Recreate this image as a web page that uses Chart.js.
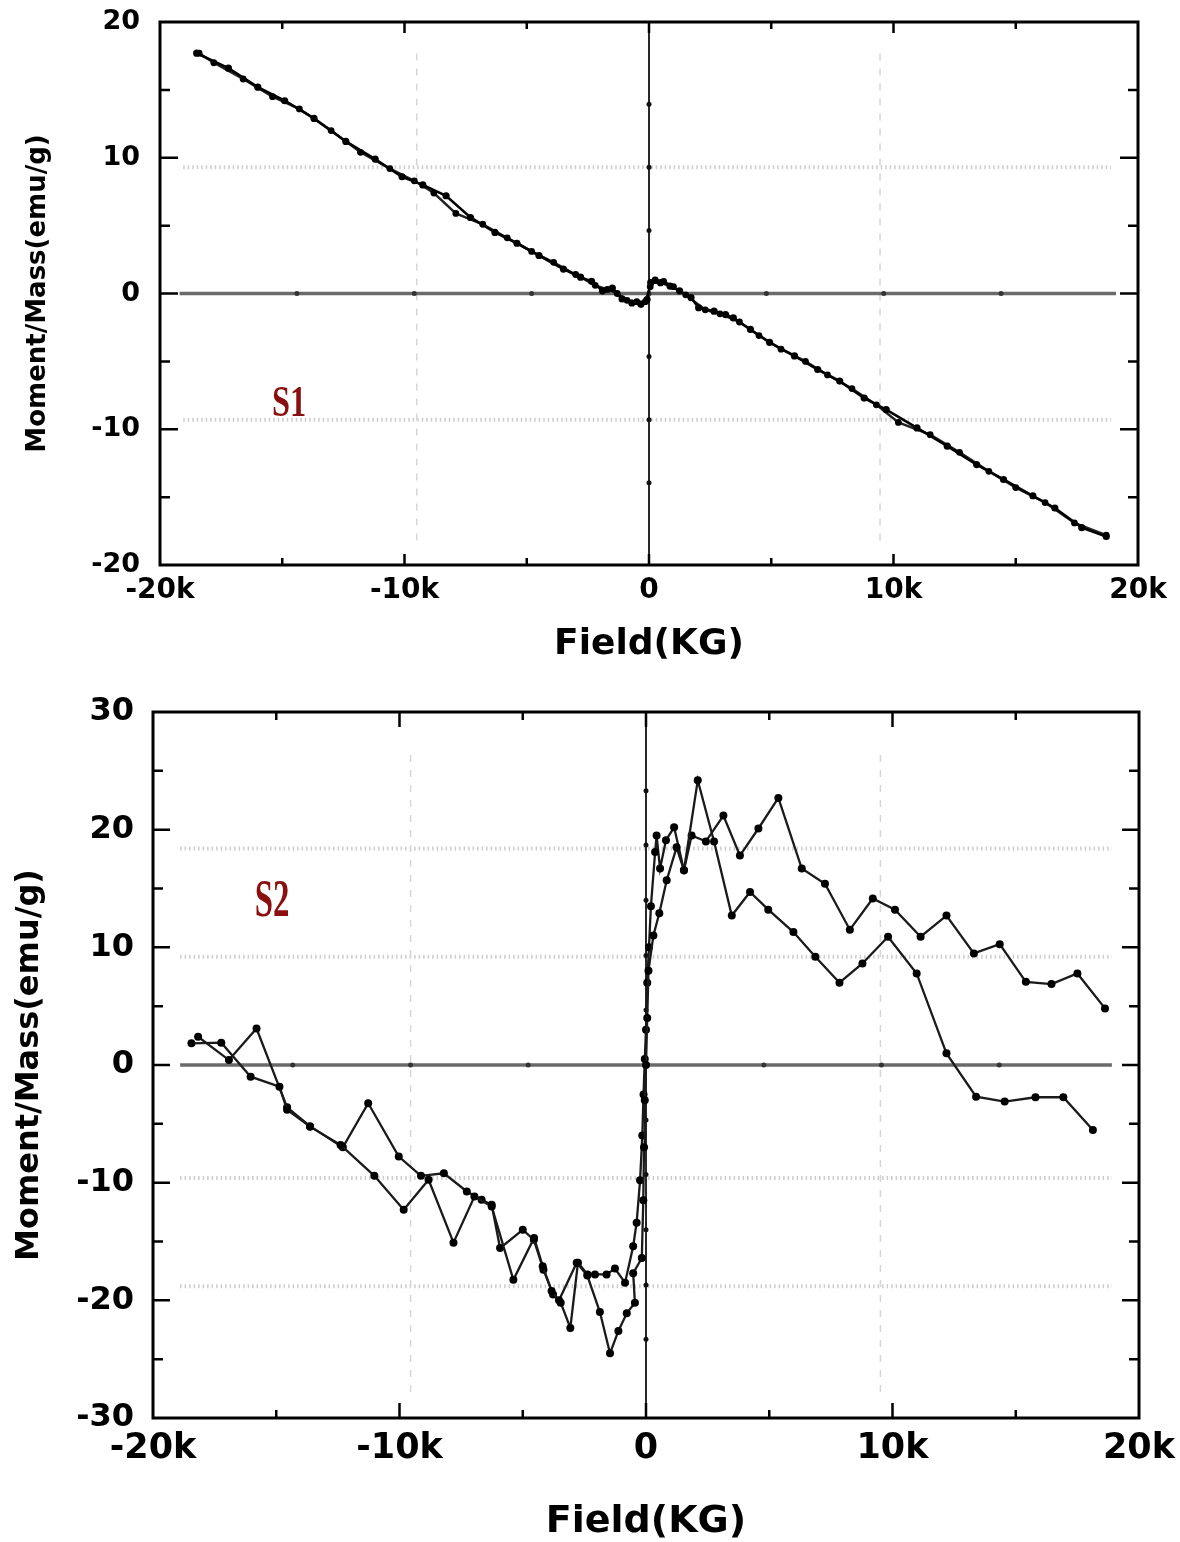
<!DOCTYPE html>
<html>
<head>
<meta charset="utf-8">
<title>M-H loops S1 / S2</title>
<script src="https://cdn.jsdelivr.net/npm/chart.js@4.4.1/dist/chart.umd.min.js"></script>
<style>
    html, body { margin: 0; padding: 0; background: #fff; }
    canvas { display: block; }
</style>
</head>
<body>
<canvas id="s1-chart" width="1180" height="680"></canvas>
<canvas id="s2-chart" width="1180" height="862"></canvas>
<script>
// Field in kG (axis shows "k"), moment in emu/g

// ---- S1: two sweep branches, almost on top of each other ----
const s1UpField = [-18.5, -17.2, -16.0, -14.9, -13.7, -12.4, -11.2, -10.1, -9.25, -8.3, -7.3, -6.3, -5.4, -4.5, -3.5, -2.8, -2.35, -1.9, -1.5, -1.1, -0.7, -0.33, -0.08, 0.07, 0.47, 0.86, 1.25, 1.72, 2.03, 2.66, 3.13, 3.45, 4.15, 4.93, 5.95, 6.9, 7.8, 8.8, 9.7, 10.96, 12.2, 13.4, 14.5, 15.7, 16.6, 17.7, 18.7];
const s1UpMoment = [17.7, 16.6, 15.2, 14.2, 12.9, 11.2, 9.9, 8.6, 8.0, 7.2, 5.6, 4.5, 3.7, 2.8, 1.8, 1.2, 0.9, 0.2, 0.4, -0.4, -0.7, -0.8, -0.45, 0.8, 0.8, 0.55, 0.2, -0.3, -1.05, -1.3, -1.55, -1.8, -2.65, -3.6, -4.6, -5.6, -6.45, -7.7, -8.55, -9.9, -11.25, -12.6, -13.7, -14.9, -15.8, -17.25, -17.9];

const s1DownField = [18.7, 17.4, 16.2, 15.0, 13.9, 12.7, 11.5, 10.2, 9.3, 8.3, 7.3, 6.4, 5.4, 4.5, 3.7, 2.9, 2.3, 1.5, 1.0, 0.6, 0.25, 0.05, -0.15, -0.5, -0.9, -1.3, -1.7, -2.2, -3.0, -3.9, -4.8, -5.8, -6.8, -7.9, -8.8, -9.6, -10.6, -11.8, -13.0, -14.3, -15.4, -16.6, -17.8, -18.4];
const s1DownMoment = [-17.8, -16.9, -15.4, -14.3, -13.1, -11.7, -10.4, -9.5, -8.2, -7.0, -6.0, -5.0, -4.1, -3.1, -2.1, -1.5, -1.2, -0.1, 0.5, 0.9, 1.0, 0.5, -0.6, -0.6, -0.5, 0.0, 0.3, 0.6, 1.4, 2.3, 3.1, 4.1, 5.1, 5.9, 7.4, 8.3, 9.2, 10.4, 12.0, 13.6, 14.5, 15.8, 17.0, 17.7];

// ---- S2: noisy loop ----
const s2LowerField = [-18.44, -17.23, -16.04, -14.87, -14.56, -13.63, -12.39, -11.02, -9.83, -8.82, -7.81, -6.96, -6.26, -5.38, -4.54, -4.19, -3.83, -3.53, -2.81, -2.38, -1.87, -1.46, -1.12, -0.78, -0.45, -0.52, -0.17, -0.11, -0.08, -0.05, 0.0, 0.05, 0.1, 0.3, 0.54, 0.84, 1.24, 1.54, 2.1, 2.76, 3.48, 4.22, 4.96, 5.98, 6.87, 7.85, 8.78, 9.82, 10.98, 12.19, 13.39, 14.55, 15.8, 16.93, 18.13];
const s2LowerMoment = [1.84, 1.9, -0.99, -1.84, -3.8, -5.24, -6.8, -9.42, -12.3, -9.76, -15.1, -11.18, -12.03, -18.25, -14.7, -17.1, -19.2, -20.0, -16.8, -17.9, -21.0, -24.5, -22.6, -21.1, -20.2, -17.7, -16.4, -11.5, -7.0, -3.0, 0.0, 4.0, 8.0, 11.0, 12.9, 15.7, 18.5, 16.55, 24.2, 19.0, 12.7, 14.7, 13.2, 11.3, 9.2, 6.99, 8.63, 10.9, 7.78, 0.99, -2.69, -3.11, -2.74, -2.74, -5.52];

const s2UpperField = [-18.17, -16.92, -15.8, -14.56, -13.63, -12.3, -11.27, -10.03, -9.13, -8.2, -7.27, -6.67, -6.26, -5.92, -5.0, -4.55, -4.16, -3.77, -3.46, -3.07, -2.76, -2.37, -2.07, -1.6, -1.26, -0.85, -0.52, -0.38, -0.24, -0.15, -0.1, -0.05, 0.0, 0.05, 0.12, 0.2, 0.37, 0.43, 0.57, 0.81, 1.14, 1.54, 1.85, 2.43, 3.14, 3.81, 4.56, 5.37, 6.32, 7.26, 8.27, 9.2, 10.1, 11.14, 12.19, 13.3, 14.35, 15.41, 16.45, 17.5, 18.62];
const s2UpperMoment = [2.4, 0.42, 3.1, -3.6, -5.2, -7.0, -3.25, -7.78, -9.42, -9.2, -10.75, -11.46, -11.88, -15.56, -14.0, -14.86, -17.4, -19.5, -20.2, -22.35, -16.8, -17.8, -17.8, -17.8, -17.3, -18.5, -15.4, -13.4, -9.8, -6.0, -2.5, 0.5, 3.0, 7.0, 10.0, 13.5, 18.1, 19.5, 16.7, 19.1, 20.2, 16.55, 19.5, 19.0, 21.2, 17.8, 20.1, 22.7, 16.7, 15.4, 11.5, 14.15, 13.2, 10.9, 12.7, 9.48, 10.27, 7.07, 6.88, 7.78, 4.81];

// zero lines of the original plot (with their small markers)
const s1ZeroLineField = [-19.2, -14.4, -9.6, -4.8, 0, 4.8, 9.6, 14.4, 19.1];
const s1ZeroLineMoment = [-20, -13.95, -9.3, -4.65, 0, 4.65, 9.3, 13.95, 20];
const s2ZeroLineField = [-18.9, -14.33, -9.55, -4.78, 0, 4.78, 9.55, 14.33, 18.9];
const s2ZeroLineMoment = [-30, -23.3, -18.7, -14, -9.3, -4.67, 0, 4.67, 9.3, 14, 18.7, 23.3, 30];

// faint grid of the original
const s1GridMoment = [9.3, -9.3];
const s1GridField = [-9.5, 9.45];
const s2GridMoment = [18.4, 9.2, -9.6, -18.8];
const s2GridField = [-9.55, 9.51];

// axis tick marks (drawn inward)
const fieldMajor = [-10, 0, 10];
const fieldMinor = [-15, -5, 5, 15];
const s1MomentMajor = [-10, 0, 10];
const s1MomentMinor = [-15, -5, 5, 15];
const s2MomentMajor = [-20, -10, 0, 10, 20];
const s2MomentMinor = [-25, -15, -5, 5, 15, 25];

const toPoints = (xs, ys) => xs.map((x, i) => ({ x, y: ys[i] }));
const endsHidden = (r) => (ctx) => (ctx.dataIndex === 0 || ctx.dataIndex === ctx.dataset.data.length - 1) ? 0 : r;

// box frame + inward ticks
const frameTicks = {
    id: 'frameTicks',
    afterDatasetsDraw(chart, args, o) {
        const { ctx, chartArea: a, scales: { x, y } } = chart;
        ctx.save();
        ctx.strokeStyle = '#000';
        ctx.lineWidth = 2.5;
        ctx.beginPath();
        const xt = (v, len) => {
            const px = x.getPixelForValue(v);
            ctx.moveTo(px, a.top); ctx.lineTo(px, a.top + len);
            ctx.moveTo(px, a.bottom); ctx.lineTo(px, a.bottom - len);
        };
        const yt = (v, len) => {
            const py = y.getPixelForValue(v);
            ctx.moveTo(a.left, py); ctx.lineTo(a.left + len, py);
            ctx.moveTo(a.right, py); ctx.lineTo(a.right - len, py);
        };
        o.xMajor.forEach(v => xt(v, o.xLen[0]));
        o.xMinor.forEach(v => xt(v, o.xLen[1]));
        o.yMajor.forEach(v => yt(v, o.yLen[0]));
        o.yMinor.forEach(v => yt(v, o.yLen[1]));
        ctx.stroke();
        ctx.lineWidth = 3;
        ctx.strokeRect(a.left, a.top, a.right - a.left, a.bottom - a.top);
        ctx.restore();
    }
};

// dotted grid, drawn under the data
const refGrid = {
    id: 'refGrid',
    beforeDatasetsDraw(chart, args, o) {
        const { ctx, scales: { x, y } } = chart;
        ctx.save();
        ctx.strokeStyle = '#cdcdcd';
        ctx.lineWidth = 4;
        ctx.setLineDash([1.5, 3]);
        ctx.beginPath();
        o.moments.forEach(v => {
            const py = y.getPixelForValue(v);
            ctx.moveTo(x.getPixelForValue(o.fieldSpan[0]), py);
            ctx.lineTo(x.getPixelForValue(o.fieldSpan[1]), py);
        });
        ctx.stroke();
        ctx.strokeStyle = '#d6d6d6';
        ctx.lineWidth = 1.5;
        ctx.setLineDash([7, 8]);
        ctx.beginPath();
        o.fields.forEach(v => {
            const px = x.getPixelForValue(v);
            ctx.moveTo(px, y.getPixelForValue(o.momentSpan[0]));
            ctx.lineTo(px, y.getPixelForValue(o.momentSpan[1]));
        });
        ctx.stroke();
        ctx.restore();
    }
};

// sample name ("S1" / "S2"), narrow serif in dark red
const sampleLabel = {
    id: 'sampleLabel',
    afterDatasetsDraw(chart, args, o) {
        const { ctx, scales: { x, y } } = chart;
        ctx.save();
        ctx.translate(x.getPixelForValue(o.at[0]), y.getPixelForValue(o.at[1]));
        ctx.scale(o.squeeze, 1);
        ctx.fillStyle = '#8a0f0f';
        ctx.font = `bold ${o.size}px "Liberation Serif", "DejaVu Serif", serif`;
        ctx.textAlign = 'center';
        ctx.textBaseline = 'middle';
        ctx.fillText(o.text, 0, 0);
        ctx.restore();
    }
};

function zeroLineSets(fieldLine, momentLine) {
    return [
        {
            data: fieldLine.map(f => ({ x: f, y: 0 })),
            showLine: true,
            borderColor: '#6a6a6a',
            borderWidth: 3.5,
            pointRadius: endsHidden(2.5),
            pointBackgroundColor: '#333',
            pointBorderWidth: 0,
            order: 2
        },
        {
            data: momentLine.map(m => ({ x: 0, y: m })),
            showLine: true,
            borderColor: '#111',
            borderWidth: 1.8,
            pointRadius: endsHidden(2.5),
            pointBackgroundColor: '#111',
            pointBorderWidth: 0,
            order: 2
        }
    ];
}

function branchSet(fields, moments, color, width, radius) {
    return {
        data: toPoints(fields, moments),
        showLine: true,
        borderColor: color,
        borderWidth: width,
        pointRadius: radius,
        pointBackgroundColor: '#000',
        pointBorderWidth: 0,
        order: 0
    };
}

function makeOptions(p) {
    const bold = (size) => ({ family: 'DejaVu Sans', size, weight: 'bold' });
    return {
        responsive: false,
        animation: false,
        layout: { padding: { top: p.padTop, right: p.padRight, left: 0, bottom: 0 } },
        plugins: {
            legend: { display: false },
            tooltip: { enabled: false },
            frameTicks: p.ticks,
            refGrid: p.grid,
            sampleLabel: p.label
        },
        scales: {
            x: {
                type: 'linear',
                min: -20,
                max: 20,
                grid: { display: false, drawTicks: false },
                border: { display: false },
                ticks: {
                    stepSize: 10,
                    padding: p.xTickPad,
                    color: '#000',
                    font: bold(p.xTickSize),
                    maxRotation: 0,
                    autoSkip: false,
                    callback: (v) => v === 0 ? '0' : v + 'k'
                },
                title: {
                    display: true,
                    text: 'Field(KG)',
                    color: '#000',
                    font: { ...bold(p.xTitleSize), lineHeight: 1 },
                    padding: { top: 0, bottom: p.xTitlePad }
                },
                afterFit: (s) => { s.height = p.xAxisHeight; s.paddingLeft = 0; s.paddingRight = 0; }
            },
            y: {
                type: 'linear',
                min: p.yMin,
                max: p.yMax,
                grid: { display: false, drawTicks: false },
                border: { display: false },
                ticks: {
                    stepSize: 10,
                    padding: p.yTickPad,
                    color: '#000',
                    font: bold(p.yTickSize)
                },
                title: {
                    display: true,
                    text: 'Moment/Mass(emu/g)',
                    color: '#000',
                    font: { ...bold(p.yTitleSize), lineHeight: 1 },
                    padding: { top: p.yTitlePad, bottom: 0 }
                },
                // fixed axis width; the plot top comes from layout padding only
                afterFit: (s) => { s.width = p.yAxisWidth; s.paddingTop = 0; s.paddingBottom = 0; }
            }
        }
    };
}

new Chart(document.getElementById('s1-chart'), {
    type: 'scatter',
    data: {
        datasets: [
            branchSet(s1UpField, s1UpMoment, '#000', 2.6, 3.6),
            branchSet(s1DownField, s1DownMoment, '#222', 2.4, 3.4),
            ...zeroLineSets(s1ZeroLineField, s1ZeroLineMoment)
        ]
    },
    options: makeOptions({
        padTop: 22, padRight: 42,
        yAxisWidth: 160, xAxisHeight: 115,
        yMin: -20, yMax: 20,
        xTickSize: 28, xTickPad: 9,
        yTickSize: 27, yTickPad: 20,
        xTitleSize: 36, xTitlePad: 17,
        yTitleSize: 26, yTitlePad: 25,
        ticks: { xMajor: fieldMajor, xMinor: fieldMinor, yMajor: s1MomentMajor, yMinor: s1MomentMinor, xLen: [11, 7], yLen: [18, 10] },
        grid: { moments: s1GridMoment, fields: s1GridField, fieldSpan: [-19.05, 18.9], momentSpan: [-18.2, 17.7] },
        label: { text: 'S1', at: [-14.72, -8.18], size: 45, squeeze: 0.72 }
    }),
    plugins: [refGrid, frameTicks, sampleLabel]
});

new Chart(document.getElementById('s2-chart'), {
    type: 'scatter',
    data: {
        datasets: [
            branchSet(s2LowerField, s2LowerMoment, '#1a1a1a', 2.3, 4),
            branchSet(s2UpperField, s2UpperMoment, '#1a1a1a', 2.3, 4),
            ...zeroLineSets(s2ZeroLineField, s2ZeroLineMoment)
        ]
    },
    options: makeOptions({
        padTop: 32, padRight: 41,
        yAxisWidth: 153, xAxisHeight: 124,
        yMin: -30, yMax: 30,
        xTickSize: 35, xTickPad: 10,
        yTickSize: 32, yTickPad: 19,
        xTitleSize: 38, xTitlePad: 1,
        yTitleSize: 32, yTitlePad: 14,
        ticks: { xMajor: fieldMajor, xMinor: fieldMinor, yMajor: s2MomentMajor, yMinor: s2MomentMinor, xLen: [15, 8], yLen: [17, 10] },
        grid: { moments: s2GridMoment, fields: s2GridField, fieldSpan: [-18.9, 18.9], momentSpan: [-27.8, 27] },
        label: { text: 'S2', at: [-15.17, 13.84], size: 53, squeeze: 0.62 }
    }),
    plugins: [refGrid, frameTicks, sampleLabel]
});
</script>
</body>
</html>
